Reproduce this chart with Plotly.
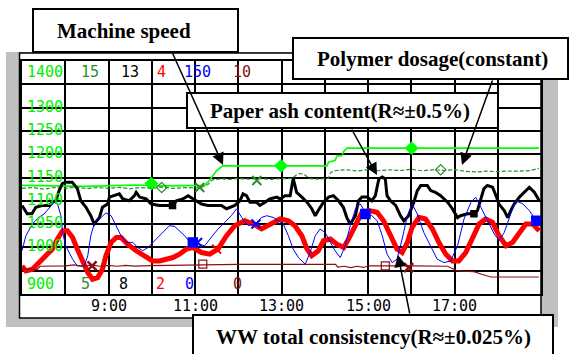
import plotly.graph_objects as go

# ---------------- data (time in decimal hours) ----------------
# Machine speed (green pen, 900-1400)
speed_t = [7.00, 8.50, 9.60, 10.20, 11.22, 11.34, 11.50, 11.64, 14.05, 14.09, 14.24, 14.28, 14.40, 14.43, 14.51, 18.95]
speed_v = [1133, 1131, 1134, 1132, 1133, 1144, 1165, 1175, 1175, 1183, 1187, 1196, 1197, 1205, 1213, 1213]

# Polymer dosage (dark green pen, 5-15)
poly_t = [7.00, 7.25, 7.50, 7.75, 8.00, 8.25, 8.50, 8.75, 9.00, 9.25, 9.50, 9.75, 10.00, 10.25, 10.50,
          10.75, 11.00, 11.15, 11.30, 11.40, 11.60, 11.80, 12.00, 12.25, 12.50, 12.75, 13.00, 13.25,
          13.35, 13.45, 13.55, 13.65, 13.85, 14.00, 14.08, 14.14, 14.25, 14.50, 14.75, 15.00, 15.25,
          15.50, 15.75, 16.00, 16.25, 16.50, 16.75, 17.00, 17.25, 17.50, 17.75, 18.00, 18.25, 18.50,
          18.75, 18.95]
poly_v = [9.53, 9.57, 9.50, 9.57, 9.53, 9.59, 9.52, 9.57, 9.53, 9.58, 9.52, 9.57, 9.54, 9.59, 9.53,
          9.57, 9.55, 9.57, 9.70, 9.90, 9.94, 9.92, 9.96, 9.93, 9.95, 9.92, 9.95, 9.96,
          10.12, 10.17, 10.10, 9.95, 9.93, 9.95, 9.96, 10.22, 10.30, 10.33, 10.28, 10.34, 10.29,
          10.33, 10.30, 10.35, 10.29, 10.33, 10.30, 10.34, 10.26, 10.24, 10.27, 10.25, 10.28, 10.27,
          10.30, 10.39]

# Paper ash content (black pen, 8-13)
ash_t = [7.00, 7.12, 7.23, 7.32, 7.46, 7.63, 7.70, 7.78, 7.86, 7.93, 8.01, 8.16, 8.28, 8.36, 8.48,
         8.59, 8.67, 8.79, 8.86, 8.98, 9.02, 9.14, 9.25, 9.33, 9.48, 9.60, 9.64, 9.72, 9.87, 9.99,
         10.18, 10.34, 10.49, 10.57, 10.72, 10.84, 10.95, 11.15, 11.30, 11.61, 11.73, 11.92, 12.04,
         12.11, 12.19, 12.27, 12.42, 12.50, 12.62, 12.73, 12.89, 12.97, 13.08, 13.20, 13.27, 13.35,
         13.47, 13.59, 13.70, 13.78, 13.85, 13.97, 14.09, 14.20, 14.32, 14.43, 14.51, 14.59, 14.71,
         14.78, 14.86, 14.98, 15.09, 15.17, 15.25, 15.33, 15.40, 15.44, 15.52, 15.64, 15.75, 15.83,
         15.94, 16.06, 16.14, 16.22, 16.37, 16.45, 16.56, 16.68, 16.84, 16.95, 17.07, 17.14, 17.30,
         17.45, 17.53, 17.61, 17.68, 17.76, 17.88, 17.96, 18.03, 18.15, 18.23, 18.30, 18.38, 18.50,
         18.61, 18.73, 18.85, 18.96]
ash_v = [9.90, 9.72, 9.72, 9.86, 9.90, 9.90, 9.97, 10.00, 10.22, 10.37, 10.40, 10.40, 10.26, 10.00, 9.86,
         9.68, 9.50, 9.64, 9.86, 9.93, 10.08, 10.11, 10.15, 10.04, 10.00, 10.11, 10.18, 10.08, 10.04, 9.93,
         9.90, 9.90, 9.90, 10.00, 10.04, 10.11, 10.04, 9.93, 9.90, 9.90, 9.83, 9.90, 10.00,
         10.15, 10.11, 9.97, 9.97, 9.90, 9.97, 10.04, 10.08, 10.04, 10.11, 10.11, 10.48, 10.18,
         10.08, 9.97, 9.83, 9.68, 9.79, 9.97, 10.08, 10.11, 10.00, 9.86, 9.64, 9.50, 9.68,
         10.00, 10.08, 10.08, 10.00, 10.11, 10.47, 10.51, 10.47, 10.11, 10.00, 9.90, 9.68, 9.57,
         9.68, 9.97, 10.22, 10.33, 10.33, 10.22, 10.18, 10.11, 9.97, 9.83, 9.64, 9.68, 9.72,
         9.72, 9.79, 10.04, 10.26, 10.33, 10.29, 10.11, 9.93, 9.79, 9.64, 9.79, 9.93, 10.08,
         10.18, 10.29, 10.18, 10.00]

# WW total consistency (red pen, 2-4)
ww_t = [7.00, 7.09, 7.24, 7.39, 7.55, 7.70, 7.82, 7.94, 8.05, 8.17, 8.28, 8.40, 8.52, 8.63, 8.75,
        8.86, 8.94, 9.06, 9.18, 9.29, 9.44, 9.64, 9.83, 10.02, 10.18, 10.34, 10.49, 10.64, 10.80,
        10.95, 11.15, 11.34, 11.53, 11.73, 11.92, 12.15, 12.35, 12.54, 12.73, 12.97, 13.16, 13.31,
        13.47, 13.59, 13.70, 13.85, 13.97, 14.13, 14.28, 14.44, 14.55, 14.71, 14.86, 15.02, 15.21,
        15.36, 15.52, 15.67, 15.79, 15.91, 16.02, 16.18, 16.33, 16.49, 16.64, 16.80, 16.95, 17.10,
        17.26, 17.42, 17.57, 17.72, 17.88, 18.03, 18.19, 18.34, 18.50, 18.65, 18.81, 18.96]
ww_v = [2.241, 2.198, 2.213, 2.270, 2.328, 2.385, 2.472, 2.543, 2.543, 2.485, 2.385, 2.270, 2.184, 2.127, 2.141,
        2.213, 2.328, 2.442, 2.485, 2.485, 2.428, 2.371, 2.328, 2.284, 2.284, 2.299, 2.313, 2.342, 2.385,
        2.399, 2.356, 2.342, 2.385, 2.500, 2.586, 2.629, 2.601, 2.558, 2.601, 2.644, 2.629, 2.586,
        2.500, 2.385, 2.328, 2.371, 2.457, 2.472, 2.428, 2.399, 2.472, 2.601, 2.701, 2.716, 2.701,
        2.629, 2.515, 2.385, 2.356, 2.442, 2.572, 2.658, 2.644, 2.558, 2.442, 2.342, 2.284, 2.284,
        2.356, 2.472, 2.601, 2.644, 2.615, 2.500, 2.414, 2.442, 2.528, 2.601, 2.601, 2.543]

# Blue pen (0-150)
blue_t = [7.00, 7.09, 7.24, 7.39, 7.51, 7.67, 7.74, 7.82, 7.90, 7.94, 8.01, 8.17, 8.28, 8.44, 8.52,
          8.59, 8.67, 8.83, 8.94, 9.06, 9.17, 9.29, 9.41, 9.56, 9.68, 9.79, 9.91, 10.10, 10.26, 10.41,
          10.53, 10.64, 10.76, 10.88, 10.99, 11.22, 11.38, 11.53, 11.69, 11.84, 11.96, 12.08, 12.23,
          12.39, 12.54, 12.66, 12.81, 12.93, 13.04, 13.16, 13.27, 13.39, 13.55, 13.66, 13.78, 13.89,
          14.01, 14.13, 14.24, 14.36, 14.47, 14.59, 14.71, 14.82, 14.94, 15.09, 15.21, 15.33, 15.44,
          15.56, 15.67, 15.79, 15.91, 16.02, 16.14, 16.29, 16.45, 16.60, 16.76, 16.91, 17.07, 17.22,
          17.38, 17.49, 17.61, 17.76, 17.92, 18.03, 18.15, 18.30, 18.42, 18.58, 18.73, 18.89, 19.00]
blue_v = [27.8, 37.5, 45.1, 49.3, 51.5, 56.9, 59.0, 58.0, 50.4, 39.6, 31.0, 22.4, 18.1, 18.1, 24.6,
          37.5, 45.1, 49.3, 52.2, 50.4, 44.0, 37.5, 33.2, 33.2, 29.9, 27.8, 29.9, 35.4, 39.6, 44.0,
          43.5, 40.7, 37.5, 33.6, 33.2, 31.0, 36.4, 41.8, 46.1, 50.4, 54.8, 49.3, 44.0,
          45.1, 49.3, 50.4, 49.3, 47.2, 45.1, 37.5, 28.9, 23.5, 19.2, 26.7, 37.5, 41.8,
          39.6, 33.2, 27.8, 23.5, 31.0, 44.0, 54.8, 58.0, 52.6, 50.4, 47.2, 37.5, 25.7,
          20.2, 22.4, 35.4, 50.4, 58.0, 51.5, 39.6, 31.0, 22.4, 20.2, 21.3, 31.0, 48.3,
          59.0, 62.3, 55.8, 47.2, 38.6, 34.3, 39.6, 51.5, 60.1, 58.0, 53.7, 47.2, 45.1]

# Dark red pen (0-10)
dred_t = [7.00, 7.35, 7.42, 8.00, 8.20, 8.40, 8.60, 8.80, 9.00, 9.20, 9.40, 9.60, 10.00, 10.50, 11.00,
          12.00, 13.00, 14.25, 14.30, 14.45, 14.60, 14.75, 14.90, 15.00, 16.00, 16.84, 17.07, 17.45,
          17.61, 17.84, 18.95]
dred_v = [1.06, 1.06, 1.19, 1.21, 1.25, 1.19, 1.24, 1.19, 1.23, 1.19, 1.23, 1.20, 1.22, 1.24, 1.26,
          1.27, 1.27, 1.27, 1.15, 1.19, 1.13, 1.19, 1.14, 1.21, 1.21, 1.19, 0.99, 0.96,
          0.86, 0.73, 0.73]

# pen markers
speed_mk_t, speed_mk_v = [9.99, 12.99, 16.01], [1137, 1175, 1213]
poly_x_t, poly_x_v = [11.11, 12.43], [9.57, 9.87]
poly_d_t, poly_d_v = [10.23, 16.68], [9.57, 10.33]
blue_sq_t, blue_sq_v = [10.95, 14.94, 18.89], [33.2, 51.5, 47.2]
blue_x_t, blue_x_v = [11.06, 12.41], [33.2, 45.1]
ww_x_t, ww_x_v = [11.50], [2.385]
dred_x_t, dred_x_v = [8.62, 15.94], [1.21, 1.13]
dred_sq_t, dred_sq_v = [11.18, 15.40], [1.28, 1.21]
ash_mk_t, ash_mk_v = [10.48, 17.45], [9.90, 9.72]

# pen scales (header = max, footer = min)
pen_names = ["speed", "polymer", "ash", "ww", "blue", "darkred"]
scale_max = ["1400", "15", "13", "4", "150", "10"]
scale_min = ["900", "5", "8", "2", "0", "0"]
pen_colors = ["#00ee00", "#2a8f2a", "#000000", "#ff0000", "#0000ff", "#8b1010"]

grid_labels = [1300, 1250, 1200, 1150, 1100, 1050, 1000]
time_ticks = [9, 11, 13, 15, 17]
time_text = ["9:00", "11:00", "13:00", "15:00", "17:00"]

callouts = ["Machine speed", "Polymer dosage(constant)",
            "Paper ash content(R≈±0.5%)", "WW total consistency(R≈±0.025%)"]

# ---------------- layout geometry (pixels) ----------------
W, H = 569, 354
L, R, T, B = 22, 28, 61, 60
PW = W - L - R
PH = H - T - B


def px(x):
    return (x - L) / PW


def py(y):
    return (T + PH - y) / PH


fig = go.Figure()


def line_trace(t, v, axis, color, width, dash="solid"):
    return go.Scatter(x=t, y=v, yaxis=axis, mode="lines", showlegend=False, hoverinfo="skip",
                      line=dict(color=color, width=width, dash=dash))


def mk_trace(t, v, axis, color, symbol, size, lw=1.5):
    return go.Scatter(x=t, y=v, yaxis=axis, mode="markers", showlegend=False, hoverinfo="skip",
                      marker=dict(color=color, symbol=symbol, size=size,
                                  line=dict(color=color, width=lw)))


fig.add_trace(line_trace(dred_t, dred_v, "y6", pen_colors[5], 1.2))
fig.add_trace(line_trace(poly_t, poly_v, "y2", pen_colors[1], 1.2, "4px,2px"))
fig.add_trace(line_trace(speed_t, speed_v, "y", "#00ff00", 1.6))
fig.add_trace(line_trace(ww_t, ww_v, "y4", pen_colors[3], 5))
fig.add_trace(line_trace(blue_t, blue_v, "y5", pen_colors[4], 1))
fig.add_trace(line_trace(ash_t, ash_v, "y3", pen_colors[2], 3))

fig.add_trace(mk_trace(speed_mk_t, speed_mk_v, "y", "#00ff00", "diamond", 9))
fig.add_trace(mk_trace(poly_x_t, poly_x_v, "y2", pen_colors[1], "x-thin", 9, 2))
fig.add_trace(mk_trace(poly_d_t, poly_d_v, "y2", pen_colors[1], "diamond-open", 8, 1.2))
fig.add_trace(mk_trace(blue_sq_t, blue_sq_v, "y5", pen_colors[4], "square", 9))
fig.add_trace(mk_trace(blue_x_t, blue_x_v, "y5", pen_colors[4], "x-thin", 9, 2))
fig.add_trace(mk_trace(ww_x_t, ww_x_v, "y4", pen_colors[3], "x-thin", 9, 2))
fig.add_trace(mk_trace(dred_x_t, dred_x_v, "y6", pen_colors[5], "x-thin", 9, 2.5))
fig.add_trace(mk_trace(dred_sq_t, dred_sq_v, "y6", pen_colors[5], "square-open", 8, 1.2))
fig.add_trace(mk_trace(ash_mk_t, ash_mk_v, "y3", "#000000", "square", 6))

# ---------------- shapes ----------------
shapes = [
    dict(type="rect", xref="paper", yref="paper", x0=px(6), x1=px(558), y0=py(52), y1=py(327),
         fillcolor="#c0c0c0", line=dict(width=0), layer="below"),
    dict(type="rect", xref="paper", yref="paper", x0=px(19.5), x1=px(541), y0=py(53), y1=py(318),
         fillcolor="white", line=dict(color="black", width=1.5), layer="below"),
]
boxes = [(33, 238, 9, 52), (293, 568, 38, 79), (187, 498, 93, 128), (193, 553, 315, 362)]
for (x0, x1, y0, y1) in boxes:
    shapes.append(dict(type="rect", xref="paper", yref="paper", x0=px(x0), x1=px(x1),
                       y0=py(y0), y1=py(y1), fillcolor="white",
                       line=dict(color="black", width=2), layer="above"))

# ---------------- annotations ----------------
mono = dict(family="DejaVu Sans Mono", size=15)
ann = []
hdr_x = [25, 90, 129.5, 161, 197, 242]
ftr_x = [25, 85, 123, 160, 189, 237]
for i in range(6):
    ann.append(dict(text=scale_max[i], xref="paper", yref="paper", x=px(hdr_x[i]), y=py(72),
                    xanchor="left" if i == 0 else "center", yanchor="middle", showarrow=False,
                    font=dict(mono, color=pen_colors[i])))
    ann.append(dict(text=scale_min[i], xref="paper", yref="paper", x=px(ftr_x[i]), y=py(284),
                    xanchor="left" if i == 0 else "center", yanchor="middle", showarrow=False,
                    font=dict(mono, color=pen_colors[i])))
for g in grid_labels:
    ann.append(dict(text=str(g), xref="paper", yref="y", x=px(25), y=g, yshift=1,
                    xanchor="left", yanchor="middle", showarrow=False,
                    font=dict(mono, color=pen_colors[0])))
for t, s in zip(time_ticks, time_text):
    ann.append(dict(text=s, xref="x", yref="paper", x=t, y=py(306), xanchor="center",
                    yanchor="middle", showarrow=False, font=dict(mono, color="black")))

serif = dict(family="Liberation Serif, Times New Roman, serif", size=21, color="black")
text_pos = [(55, 31), (315, 59), (208, 111), (214, 337)]
for s, (x, y) in zip(callouts, text_pos):
    ann.append(dict(text="<b>%s</b>" % s, xref="paper", yref="paper", x=px(x), y=py(y),
                    xanchor="left", yanchor="middle", showarrow=False, font=serif))

# arrows (tip, tail)
arrows = [((377, 175), (351, 128)), ((398, 255), (410, 315)),
          ((223, 165), (172, 52)), ((462, 165), (493, 79))]
for (tx, ty), (sx, sy) in arrows:
    ann.append(dict(text="", xref="paper", yref="paper", x=px(tx), y=py(ty),
                    ax=sx - tx, ay=sy - ty, showarrow=True, arrowhead=2, arrowsize=1.6,
                    arrowwidth=1.5, arrowcolor="black", standoff=0, startstandoff=0))

axis_common = dict(showticklabels=False, ticks="", zeroline=False)
layout = dict(
    width=W, height=H, margin=dict(l=L, r=R, t=T, b=B, pad=0),
    paper_bgcolor="white", plot_bgcolor="rgba(0,0,0,0)",
    xaxis=dict(range=[7, 19], tick0=7, dtick=1, showgrid=True, gridcolor="black", gridwidth=1.6,
               showline=True, linecolor="black", linewidth=1.6, mirror=True, **axis_common),
    yaxis=dict(range=[float(scale_min[0]), float(scale_max[0])], tick0=900, dtick=50, showgrid=True,
               gridcolor="black", gridwidth=1.6, showline=True, linecolor="black", linewidth=1.6,
               mirror=True, **axis_common),
    shapes=shapes, annotations=ann, showlegend=False,
)
for i in range(1, 6):
    layout["yaxis%d" % (i + 1)] = dict(range=[float(scale_min[i]), float(scale_max[i])],
                                       overlaying="y", visible=False, showgrid=False)
fig.update_layout(**layout)

fig.write_html("out.html", config={"displayModeBar": False},
               post_script="document.body.style.margin='0px';document.body.style.overflow='hidden';")
